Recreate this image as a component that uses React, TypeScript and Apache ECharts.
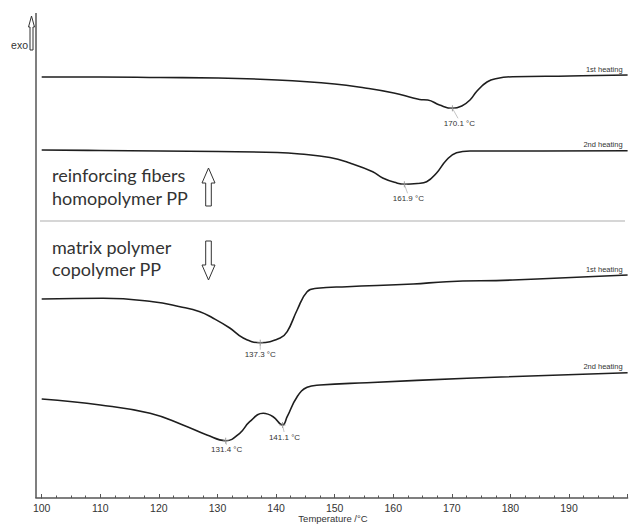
import React, { useEffect, useRef } from "react";
import * as echarts from "echarts";

// Temperature (°C) and signal (arbitrary units, exo up) of each DSC curve
const fibers1stT = [100, 110, 120.2, 130.1, 140.2, 150, 155.2, 160.1, 163.4, 164.5, 165.9, 167.9, 170.1, 171.7, 173.1, 174.3, 176, 177.7, 180.4, 190.1, 200];
const fibers1stY = [421, 421, 420.5, 420, 418, 414, 410, 405, 400, 398.5, 398, 393, 389.7, 392, 398, 407, 416, 419.5, 421.3, 422, 423];

const fibers2ndT = [100, 110, 120.2, 130.1, 140.2, 144.1, 149.2, 152.6, 156.5, 158.2, 160.6, 161.9, 164.1, 165.7, 167.4, 169.1, 170.8, 173.1, 181.6, 200];
const fibers2ndY = [348, 347.5, 347, 346.5, 345.5, 344, 340.5, 335, 326.3, 320, 315, 313.7, 314.5, 316.3, 325, 338, 345.3, 347, 347, 347.3];

const matrix1stT = [100, 110.5, 119, 123.6, 127, 129.2, 132.1, 134.4, 137.3, 140.7, 141.9, 143.6, 145.3, 147, 152.1, 163.4, 169.1, 180.4, 200];
const matrix1stY = [199, 199.7, 196.3, 191.3, 186.3, 180, 170, 160, 155.3, 160, 166.3, 188, 206.3, 209.7, 211.3, 214, 216.3, 218, 223];

const matrix2ndT = [100, 110, 118.5, 124.1, 128.2, 131.4, 133.8, 135.5, 137.8, 139.5, 141.1, 141.9, 143.6, 145.3, 147.5, 155.5, 172.6, 200];
const matrix2ndY = [99, 93, 84.7, 73, 63, 57.3, 64.7, 76.3, 84.7, 81.3, 73, 81.3, 101.3, 110.7, 113, 115.3, 119.7, 125.3];

const curveNames = ["1st heating", "2nd heating", "1st heating", "2nd heating"];

// Peak temperatures and their labels
const peakT = [170.1, 161.9, 137.3, 131.4, 141.1];
const peakY = [389.7, 313.7, 155.3, 57.3, 73];
const peakLabels = ["170.1 °C", "161.9 °C", "137.3 °C", "131.4 °C", "141.1 °C"];

const xTicks = { min: 100, max: 200, interval: 10 };
const xName = "Temperature /°C";

// label placement (style) relative to each peak, in px
const peakLabelOffsets = [[7, 15], [4, 14], [0, 12], [1, 9], [2, 12]];

const zip = (t: number[], y: number[]) => t.map((v, i) => [v, y[i]]);

export default function App() {
  const ref = useRef<HTMLDivElement>(null);
  useEffect(() => {
    if (!ref.current) return;
    const chart = echarts.init(ref.current, undefined, { renderer: "svg" });
    const curves = [
      zip(fibers1stT, fibers1stY),
      zip(fibers2ndT, fibers2ndY),
      zip(matrix1stT, matrix1stY),
      zip(matrix2ndT, matrix2ndY),
    ];
    const lineSeries = curves.map((d, i) => ({
      type: "line",
      name: curveNames[i],
      data: d,
      smooth: 0.45,
      showSymbol: false,
      symbol: "none",
      lineStyle: { color: "#1e1e1e", width: 1.6 },
      endLabel: {
        show: true,
        formatter: curveNames[i],
        fontSize: 7.5,
        fontFamily: "Liberation Sans",
        color: "#333",
        align: "right",
        verticalAlign: "bottom",
        distance: 0,
        offset: [-5, -2],
      },
      z: 3,
    }));
    const peakData = peakT.map((t, i) => [t, peakY[i], i]);
    const peakSeries = {
      type: "custom",
      data: peakData,
      z: 4,
      renderItem: (params: any, api: any) => {
        const p = api.coord([api.value(0), api.value(1)]);
        const idx = api.value(2);
        const [dx, dy] = peakLabelOffsets[idx];
        return {
          type: "group",
          children: [
            { type: "line", shape: { x1: p[0] - 3, y1: p[1], x2: p[0] + 3, y2: p[1] }, style: { stroke: "#888", lineWidth: 0.8 } },
            { type: "line", shape: { x1: p[0], y1: p[1] - 3, x2: p[0], y2: p[1] + 3 }, style: { stroke: "#888", lineWidth: 0.8 } },
            { type: "line", shape: { x1: p[0], y1: p[1], x2: p[0] + dx * 0.8, y2: p[1] + dy - 5 }, style: { stroke: "#aaa", lineWidth: 0.7 } },
            {
              type: "text",
              x: p[0] + dx,
              y: p[1] + dy,
              style: {
                text: peakLabels[idx],
                fontSize: 8,
                fontFamily: "Liberation Sans",
                fill: "#333",
                align: "center",
                verticalAlign: "middle",
              },
            },
          ],
        };
      },
    };

    const annFont = { fontSize: 18, fontFamily: "Lato", fill: "#333" };
    const upArrow = (cx: number, top: number, bottom: number, hw: number, hh: number, sw: number) => [
      [cx, top], [cx + hw, top + hh], [cx + sw, top + hh], [cx + sw, bottom], [cx - sw, bottom], [cx - sw, top + hh], [cx - hw, top + hh],
    ];
    const downArrow = (cx: number, top: number, bottom: number, hw: number, hh: number, sw: number) => [
      [cx - sw, top], [cx + sw, top], [cx + sw, bottom - hh], [cx + hw, bottom - hh], [cx, bottom], [cx - hw, bottom - hh], [cx - sw, bottom - hh],
    ];

    chart.setOption({
      animation: false,
      grid: { left: 41.7, right: 1.4, top: 13, bottom: 26, containLabel: false, outerBoundsMode: "none" },
      xAxis: {
        type: "value",
        min: xTicks.min,
        max: xTicks.max,
        interval: xTicks.interval,
        axisLine: { show: true, lineStyle: { color: "#555", width: 1.5 } },
        axisTick: { show: true, inside: true, length: 4, lineStyle: { color: "#555" } },
        minorTick: { show: true, splitNumber: 4, length: 2.5, lineStyle: { color: "#555" } },
        axisLabel: {
          fontSize: 10.5,
          fontFamily: "Liberation Sans",
          color: "#333",
          margin: 4,
          formatter: (v: number) => (v >= 200 ? "" : String(v)),
        },
        splitLine: { show: false },
      },
      yAxis: { type: "value", min: 0, max: 485, show: false, splitLine: { show: false } },
      series: [...lineSeries, peakSeries],
      graphic: [
        { type: "line", shape: { x1: 36, y1: 13, x2: 36, y2: 498 }, style: { stroke: "#555", lineWidth: 1.5 } },
        { type: "line", shape: { x1: 35.3, y1: 498, x2: 42, y2: 498 }, style: { stroke: "#555", lineWidth: 1.5 } },
        { type: "text", x: 333, y: 518.5, style: { text: xName, fontSize: 9.5, fontFamily: "Liberation Sans", fill: "#333", align: "center", verticalAlign: "middle" } },
        { type: "polygon", shape: { points: upArrow(31.5, 16, 50, 3, 11, 1.5) }, style: { fill: "#fff", stroke: "#333", lineWidth: 1 } },
        { type: "text", x: 28, y: 45, style: { text: "exo", fontSize: 10.5, fontFamily: "Liberation Sans", fill: "#333", align: "right", verticalAlign: "middle" } },
        { type: "line", shape: { x1: 40, y1: 221, x2: 625, y2: 221 }, style: { stroke: "#c9c9c9", lineWidth: 1.5 } },
        { type: "text", x: 52, y: 175, style: { ...annFont, text: "reinforcing fibers", verticalAlign: "middle" } },
        { type: "text", x: 52, y: 198, style: { ...annFont, text: "homopolymer PP", verticalAlign: "middle" } },
        { type: "text", x: 52, y: 247, style: { ...annFont, text: "matrix polymer", verticalAlign: "middle" } },
        { type: "text", x: 52, y: 269, style: { ...annFont, text: "copolymer PP", verticalAlign: "middle" } },
        { type: "polygon", shape: { points: upArrow(208.5, 168, 206, 6.5, 15, 2.8) }, style: { fill: "#fff", stroke: "#333", lineWidth: 1 } },
        { type: "polygon", shape: { points: downArrow(208.5, 241, 280, 6.5, 15, 2.8) }, style: { fill: "#fff", stroke: "#333", lineWidth: 1 } },
      ],
    });
    return () => chart.dispose();
  }, []);
  return <div ref={ref} style={{ position: "fixed", left: 0, top: 0, width: 629, height: 524, background: "#fff" }} />;
}
